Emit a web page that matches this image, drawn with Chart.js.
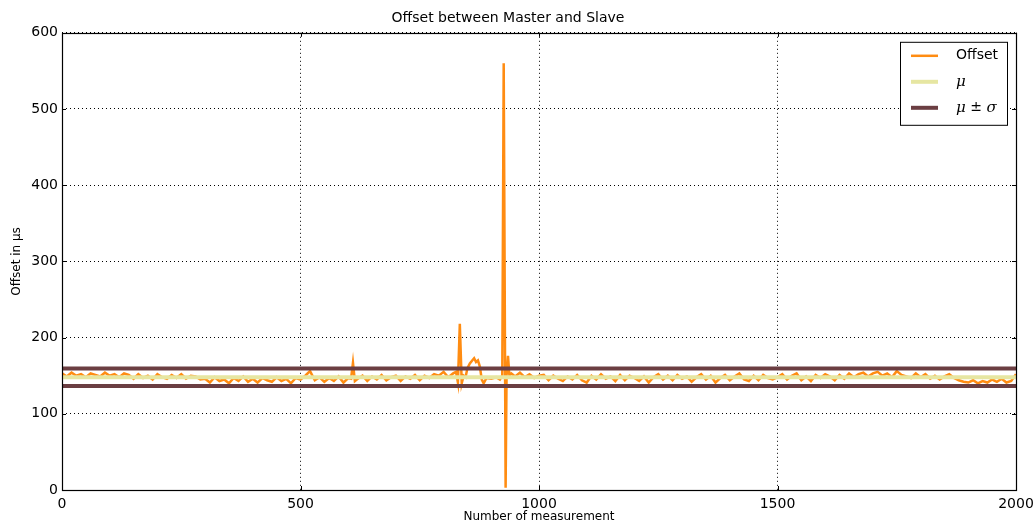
<!DOCTYPE html>
<html>
<head>
<meta charset="utf-8">
<title>Offset between Master and Slave</title>
<script src="https://cdn.jsdelivr.net/npm/chart.js@4.4.1/dist/chart.umd.min.js"></script>
<style>
  html, body { margin: 0; padding: 0; background: #fff; }
  canvas { display: block; }
</style>
</head>
<body>
<canvas id="chart" width="1036" height="524"></canvas>
<script>
// Offset between Master and Slave - measurement index vs offset (µs)

const measurement = [
  0, 10, 20, 30, 40, 50, 60, 70, 80, 90, 100, 110, 120, 130,
  140, 150, 160, 170, 180, 190, 200, 210, 220, 230, 240, 250, 260, 270, 280, 290,
  300, 310, 320, 330, 340, 350, 360, 370, 380, 390, 400, 410, 420, 430, 440, 450, 460, 470, 480, 490,
  500, 510, 520, 530, 540, 550, 560, 570, 580, 590, 600, 606, 610, 614,
  620, 630, 640, 650, 660, 670, 680, 690, 700, 710, 720, 730, 740, 750, 760, 770, 780,
  790, 800, 810, 820, 826, 830, 834, 838, 842, 846, 850, 855, 860, 864, 868, 872, 876,
  880, 884, 890, 900, 910, 918, 923, 926, 930, 932, 935, 938,
  942, 950, 960, 970, 980, 990, 1000,
  1010, 1020, 1030, 1040, 1050, 1060, 1070, 1080, 1090, 1100, 1110, 1120, 1130, 1140, 1150,
  1160, 1170, 1180, 1190, 1200, 1210, 1220, 1230, 1240, 1250, 1260, 1270, 1280, 1290, 1300,
  1310, 1320, 1330, 1340, 1350, 1360, 1370, 1380, 1390, 1400, 1410, 1420, 1430, 1440, 1450,
  1460, 1470, 1480, 1490,
  1500, 1510, 1520, 1530, 1540, 1550, 1560, 1570, 1580, 1590, 1600, 1610, 1620, 1630, 1640,
  1650, 1660, 1670, 1680, 1690, 1700, 1710, 1720, 1730, 1740, 1750, 1760, 1770, 1780, 1790,
  1800, 1810, 1820, 1830, 1840, 1850, 1860, 1870, 1880, 1890, 1900, 1910, 1920, 1930, 1940,
  1950, 1960, 1970, 1980, 1990, 2000
];

const offset = [
  153, 149, 154, 150, 152, 148, 153, 151, 149, 154, 150, 152, 148, 153,
  151, 146, 152, 147, 150, 145, 152, 148, 146, 151, 147, 152, 146, 150, 149, 145,
  146, 141, 148, 143, 145, 140, 147, 143, 149, 142, 146, 141, 147, 144, 142, 148, 143, 146, 140, 147,
  145, 150, 156, 144, 148, 142, 147, 143, 149, 141, 147, 146, 167, 143,
  146, 150, 143, 149, 145, 151, 144, 148, 150, 143, 149, 146, 151, 144, 150, 147, 152,
  150, 155, 148, 153, 155, 141, 218, 140, 150, 148, 160, 166, 170, 173, 168, 170, 162,
  145, 140, 147, 146, 148, 145, 150, 560, 3, 150, 176, 150,
  153, 149, 154, 148, 152, 147, 150,
  151, 144, 150, 146, 143, 149, 145, 151, 144, 141, 150, 145, 152, 146, 149,
  143, 151, 144, 150, 147, 143, 149, 141, 148, 152, 145, 150, 144, 151, 146,
  149, 142, 148, 152, 145, 150, 141, 147, 151, 144, 149, 153, 145, 143, 150,
  144, 151, 147, 145,
  148, 152, 145, 150, 153, 144, 149, 143, 151, 147, 152, 149, 144, 151, 146,
  153, 148, 152, 154, 149, 153, 155, 150, 153, 148, 156, 151, 149, 147, 153,
  148, 152, 146, 150, 145, 149, 152, 147, 144, 142, 141, 144, 140, 143, 141,
  145, 142, 146, 141, 143, 152
];

const mu = 148;
const sigma = 11.5;
const xRange = [0, 2000];
const xTicks = [0, 500, 1000, 1500, 2000];
const yTicks = [0, 100, 200, 300, 400, 500, 600];

const colOffset = '#ff8c12';
const colMu = '#e6e6a2';
const colSigma = '#6b3e42';

const pts = measurement.map((m, i) => ({ x: m, y: offset[i] }));
const flat = v => xRange.map(x => ({ x: x, y: v }));

// legend entries drawn inside the axes, matplotlib style
const legendItems = [
  { color: colOffset, width: 2.5, parts: [['Offset', 'normal']] },
  { color: colMu, width: 4, parts: [['\u03bc', 'italic']] },
  { color: colSigma, width: 4, parts: [['\u03bc', 'italic'], [' \u00b1 ', 'normal'], ['\u03c3', 'italic']] }
];

const framePlugin = {
  id: 'frame',
  afterDraw(chart) {
    const { ctx, chartArea: a, scales } = chart;
    ctx.save();
    // inward tick marks on all four sides
    ctx.strokeStyle = '#000';
    ctx.lineWidth = 1;
    ctx.beginPath();
    xTicks.forEach(t => {
      const px = Math.round(scales.x.getPixelForValue(t)) + 0.5;
      ctx.moveTo(px, a.bottom); ctx.lineTo(px, a.bottom - 4);
      ctx.moveTo(px, a.top); ctx.lineTo(px, a.top + 4);
    });
    yTicks.forEach(t => {
      const py = Math.round(scales.y.getPixelForValue(t)) + 0.5;
      ctx.moveTo(a.left, py); ctx.lineTo(a.left + 4, py);
      ctx.moveTo(a.right, py); ctx.lineTo(a.right - 4, py);
    });
    ctx.stroke();
    // axes frame
    ctx.lineWidth = 1.2;
    ctx.strokeRect(Math.round(a.left) + 0.5, Math.round(a.top) + 0.5,
      Math.round(a.right - a.left), Math.round(a.bottom - a.top));

    // legend box
    const bx = a.right - 116, by = a.top + 9, bw = 107, bh = 83;
    ctx.fillStyle = '#fff';
    ctx.fillRect(bx, by, bw, bh);
    ctx.lineWidth = 1;
    ctx.strokeStyle = '#000';
    ctx.strokeRect(bx + 0.5, by + 0.5, bw, bh);
    legendItems.forEach((it, i) => {
      const y = by + 14 + i * 26;
      ctx.strokeStyle = it.color;
      ctx.lineWidth = it.width;
      ctx.beginPath();
      ctx.moveTo(bx + 11, y);
      ctx.lineTo(bx + 38, y);
      ctx.stroke();
      let tx = bx + 56;
      ctx.fillStyle = '#000';
      ctx.textBaseline = 'middle';
      it.parts.forEach(([txt, style]) => {
        ctx.font = style === 'italic' ? 'italic 15px "DejaVu Serif"' : '14px "DejaVu Sans"';
        ctx.fillText(txt, tx, y);
        tx += ctx.measureText(txt).width;
      });
    });
    ctx.restore();
  }
};

new Chart(document.getElementById('chart'), {
  type: 'line',
  data: {
    datasets: [
      { label: 'Offset', data: pts, borderColor: colOffset, borderWidth: 2.5, pointRadius: 0, order: 3 },
      { label: '\u03bc', data: flat(mu), borderColor: colMu, borderWidth: 4, pointRadius: 0, order: 2 },
      { label: '\u03bc \u00b1 \u03c3', data: flat(mu + sigma), borderColor: colSigma, borderWidth: 4, pointRadius: 0, order: 1 },
      { label: 'lower', data: flat(mu - sigma), borderColor: colSigma, borderWidth: 4, pointRadius: 0, order: 1 }
    ]
  },
  options: {
    responsive: false,
    animation: false,
    layout: { padding: { left: 0, right: 20, top: 0, bottom: 0 } },
    plugins: {
      legend: { display: false },
      tooltip: { enabled: false },
      title: {
        display: true,
        text: 'Offset between Master and Slave',
        color: '#000',
        font: { family: 'DejaVu Sans', size: 14, weight: 'normal' },
        padding: { top: 10, bottom: 6 }
      }
    },
    scales: {
      x: {
        type: 'linear',
        min: xRange[0],
        max: xRange[1],
        afterFit(scale) {
          scale.height = 34;
          scale.paddingLeft = 0;
          scale.paddingRight = 0;
        },
        afterBuildTicks(scale) { scale.ticks = xTicks.map(v => ({ value: v })); },
        grid: { color: '#000', lineWidth: 1, drawTicks: false },
        border: { display: false, dash: [1, 3] },
        ticks: {
          color: '#000', padding: 6, maxRotation: 0,
          font: { family: 'DejaVu Sans', size: 14 },
          callback: v => String(v)
        },
        title: {
          display: true,
          text: 'Number of measurement',
          color: '#000',
          font: { family: 'DejaVu Sans', size: 12 },
          padding: { top: 0, bottom: 0 }
        }
      },
      y: {
        min: 0,
        max: 600,
        afterFit(scale) { scale.width = 62; },
        afterBuildTicks(scale) { scale.ticks = yTicks.map(v => ({ value: v })); },
        grid: { color: '#000', lineWidth: 1, drawTicks: false },
        border: { display: false, dash: [1, 3] },
        ticks: {
          color: '#000', padding: 4,
          font: { family: 'DejaVu Sans', size: 14 },
          callback: v => String(v)
        },
        title: {
          display: true,
          text: 'Offset in \u03bcs',
          color: '#000',
          font: { family: 'DejaVu Sans', size: 12 },
          padding: { top: 10, bottom: 0 }
        }
      }
    }
  },
  plugins: [framePlugin]
});
</script>
</body>
</html>
